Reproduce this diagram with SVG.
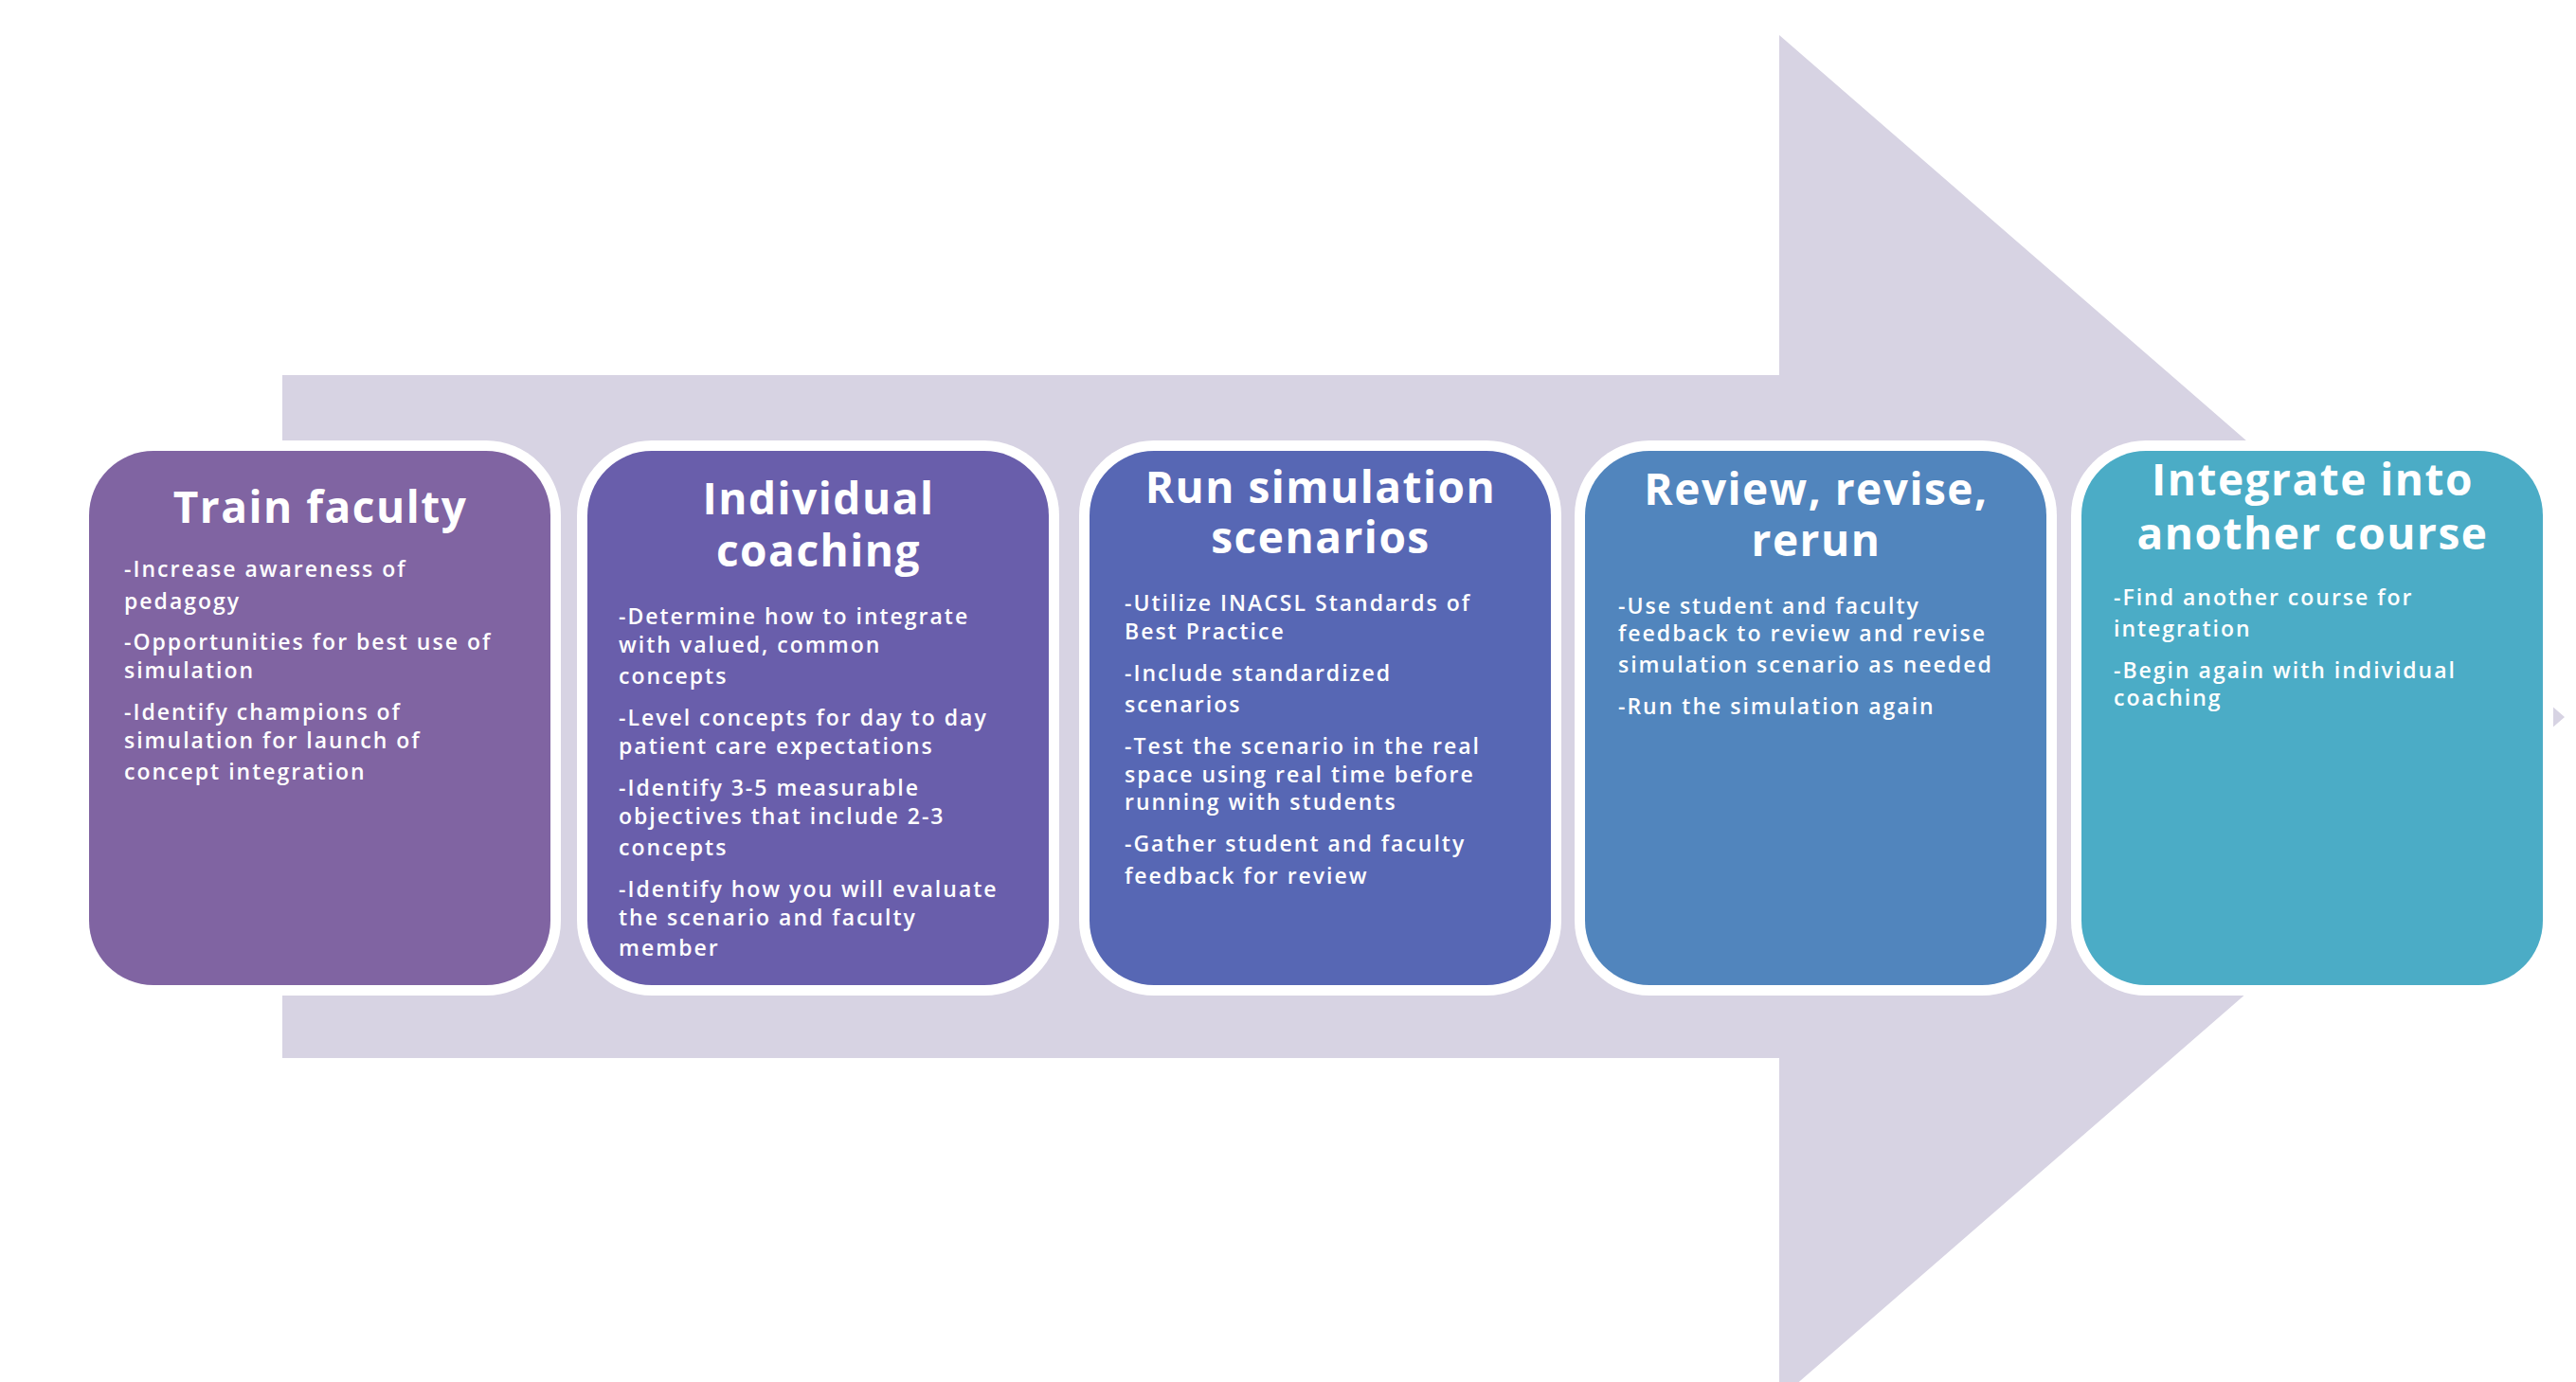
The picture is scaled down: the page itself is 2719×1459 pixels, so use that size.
<svg xmlns="http://www.w3.org/2000/svg" width="2719" height="1459" viewBox="0 0 2719 1459">
<style>
.bg{fill:#ffffff}
.arrow{fill:#D7D3E3}
.rim{fill:#ffffff}
.title{font-family:"Open Sans","Liberation Sans",sans-serif;font-weight:700;font-size:46px;fill:#ffffff;text-anchor:middle;letter-spacing:1.5px}
.body{font-family:"Open Sans","Liberation Sans",sans-serif;font-weight:600;font-size:23px;fill:#ffffff;letter-spacing:2px}
</style>
<rect class="bg" x="0" y="0" width="2719" height="1459"/>
<g id="connectors">
<polygon class="arrow" points="298,396 1878,396 1878,37 2707,757 1878,1477 1878,1117 298,1117"/>
</g>
<g id="node1">
<rect class="rim" x="83" y="465" width="509" height="586" rx="79"/>
<rect x="94" y="476" width="487" height="564" rx="68" fill="#8064A2"/>
<text class="title" x="338" y="552">Train faculty</text>
<text class="body" x="131" y="609">-Increase awareness of</text>
<text class="body" x="131" y="643">pedagogy</text>
<text class="body" x="131" y="686">-Opportunities for best use of</text>
<text class="body" x="131" y="716">simulation</text>
<text class="body" x="131" y="760">-Identify champions of</text>
<text class="body" x="131" y="790">simulation for launch of</text>
<text class="body" x="131" y="823">concept integration</text>
</g>
<g id="node2">
<rect class="rim" x="609" y="465" width="509" height="586" rx="79"/>
<rect x="620" y="476" width="487" height="564" rx="68" fill="#695EAB"/>
<text class="title" x="864" y="543">Individual</text>
<text class="title" x="864" y="598">coaching</text>
<text class="body" x="653" y="659">-Determine how to integrate</text>
<text class="body" x="653" y="689">with valued, common</text>
<text class="body" x="653" y="722">concepts</text>
<text class="body" x="653" y="766">-Level concepts for day to day</text>
<text class="body" x="653" y="796">patient care expectations</text>
<text class="body" x="653" y="840">-Identify 3-5 measurable</text>
<text class="body" x="653" y="870">objectives that include 2-3</text>
<text class="body" x="653" y="903">concepts</text>
<text class="body" x="653" y="947">-Identify how you will evaluate</text>
<text class="body" x="653" y="977">the scenario and faculty</text>
<text class="body" x="653" y="1009">member</text>
</g>
<g id="node3">
<rect class="rim" x="1139" y="465" width="509" height="586" rx="79"/>
<rect x="1150" y="476" width="487" height="564" rx="68" fill="#5767B4"/>
<text class="title" x="1394" y="531">Run simulation</text>
<text class="title" x="1394" y="584">scenarios</text>
<text class="body" x="1187" y="645">-Utilize INACSL Standards of</text>
<text class="body" x="1187" y="675">Best Practice</text>
<text class="body" x="1187" y="719">-Include standardized</text>
<text class="body" x="1187" y="752">scenarios</text>
<text class="body" x="1187" y="796">-Test the scenario in the real</text>
<text class="body" x="1187" y="826">space using real time before</text>
<text class="body" x="1187" y="855">running with students</text>
<text class="body" x="1187" y="899">-Gather student and faculty</text>
<text class="body" x="1187" y="933">feedback for review</text>
</g>
<g id="node4">
<rect class="rim" x="1662" y="465" width="509" height="586" rx="79"/>
<rect x="1673" y="476" width="487" height="564" rx="68" fill="#5185BD"/>
<text class="title" x="1917" y="533">Review, revise,</text>
<text class="title" x="1917" y="587">rerun</text>
<text class="body" x="1708" y="648">-Use student and faculty</text>
<text class="body" x="1708" y="677">feedback to review and revise</text>
<text class="body" x="1708" y="710">simulation scenario as needed</text>
<text class="body" x="1708" y="754">-Run the simulation again</text>
</g>
<g id="node5">
<rect class="rim" x="2186" y="465" width="509" height="586" rx="79"/>
<rect x="2197" y="476" width="487" height="564" rx="68" fill="#4BACC6"/>
<text class="title" x="2441" y="523">Integrate into</text>
<text class="title" x="2441" y="580">another course</text>
<text class="body" x="2231" y="639">-Find another course for</text>
<text class="body" x="2231" y="672">integration</text>
<text class="body" x="2231" y="716">-Begin again with individual</text>
<text class="body" x="2231" y="745">coaching</text>
</g>
</svg>
